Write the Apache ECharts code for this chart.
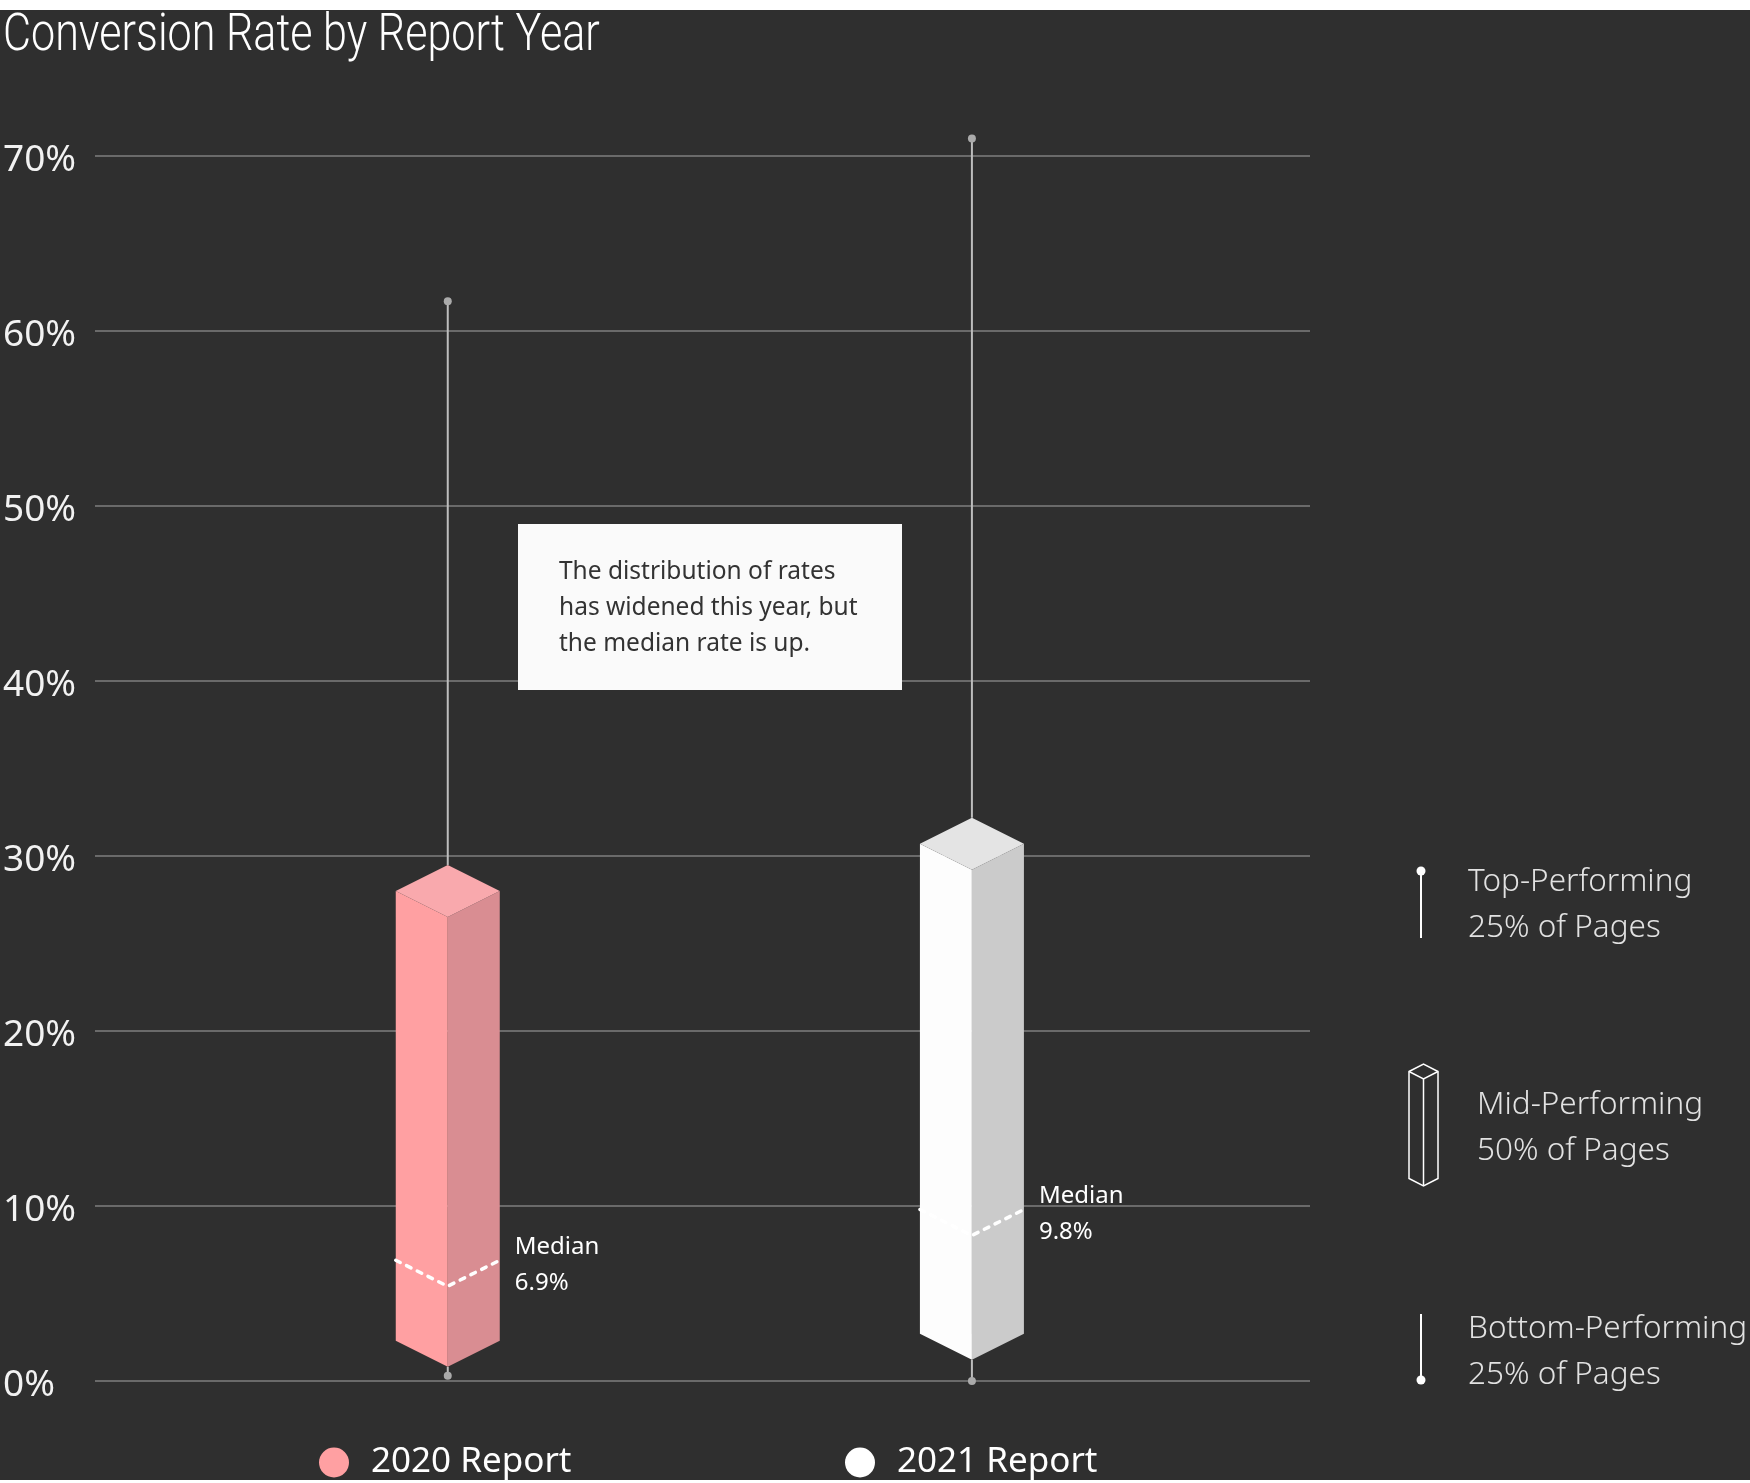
<!DOCTYPE html>
<html>
<head>
<meta charset="utf-8">
<title>Conversion Rate by Report Year</title>
<script src="https://cdn.jsdelivr.net/npm/echarts@6/dist/echarts.min.js"></script>
<style>
  html, body { margin: 0; padding: 0; background: #2f2f2f; }
  #chart { width: 1750px; height: 1483px; }
</style>
</head>
<body>
<div id="chart"></div>
<script>
// data (conversion rate, %)
var categories   = ['2020 Report', '2021 Report'];
var minValues    = [0.3, 0];
var q1Values     = [2.3, 2.7];
var medianValues = [6.9, 9.8];
var q3Values     = [28.0, 30.7];
var maxValues    = [61.7, 71.0];
var yTicks       = [0, 10, 20, 30, 40, 50, 60, 70];

var legendColors = ['#ffa0a2', '#ffffff'];
// left / right / top faces of the prism
var faceColors = [
  { left: '#ffa0a2', right: '#d98d92', top: '#f9a9ad' },
  { left: '#fdfdfd', right: '#cbcbcb', top: '#e4e4e4' }
];

var FONT = '"Noto Sans", "Open Sans", sans-serif';

/*
 * 盒子(等轴测棱柱) + 须线 + 中位数虚线
 */
function renderBox(params, api) {
  var idx = api.value(0);
  var xc = api.coord([idx, 0])[0];
  var yMin = api.coord([idx, api.value(1)])[1];
  var yQ1 = api.coord([idx, api.value(2)])[1];
  var yMed = api.coord([idx, api.value(3)])[1];
  var yQ3 = api.coord([idx, api.value(4)])[1];
  var yMax = api.coord([idx, api.value(5)])[1];
  var hw = 52, d = 26;
  var xl = xc - hw, xr = xc + hw;
  var col = faceColors[idx];
  var whisker = { stroke: '#bdbdbd', lineWidth: 2 };
  return {
    type: 'group',
    children: [
      { type: 'line', shape: { x1: xc, y1: yMax, x2: xc, y2: yQ3 - d }, style: whisker },
      { type: 'line', shape: { x1: xc, y1: yQ1 + d, x2: xc, y2: yMin }, style: whisker },
      { type: 'circle', shape: { cx: xc, cy: yMax, r: 4 }, style: { fill: '#aaaaaa' } },
      { type: 'circle', shape: { cx: xc, cy: yMin, r: 4 }, style: { fill: '#aaaaaa' } },
      { type: 'polygon', shape: { points: [[xl, yQ3], [xc, yQ3 + d], [xc, yQ1 + d], [xl, yQ1]] },
        style: { fill: col.left } },
      { type: 'polygon', shape: { points: [[xc, yQ3 + d], [xr, yQ3], [xr, yQ1], [xc, yQ1 + d]] },
        style: { fill: col.right } },
      { type: 'polygon', shape: { points: [[xl, yQ3], [xc, yQ3 - d], [xr, yQ3], [xc, yQ3 + d]] },
        style: { fill: col.top } },
      { type: 'polyline', shape: { points: [[xl, yMed], [xc, yMed + d], [xr, yMed]] },
        style: { stroke: '#ffffff', lineWidth: 3.5, lineDash: [5, 7], lineCap: 'round', fill: null } },
      { type: 'text', x: xr + 15, y: yMed + 5,
        style: {
          text: 'Median\n' + api.value(3).toFixed(1) + '%',
          fill: '#ffffff', fontSize: 24, fontFamily: FONT, lineHeight: 36,
          align: 'left', verticalAlign: 'middle'
        } }
    ]
  };
}

function seriesData(i) {
  return [[i, minValues[i], q1Values[i], medianValues[i], q3Values[i], maxValues[i]]];
}

var series = categories.map(function (name, i) {
  return {
    name: name,
    type: 'custom',
    clip: false,
    itemStyle: { color: legendColors[i] },
    renderItem: renderBox,
    encode: { x: 0, y: [1, 2, 3, 4, 5] },
    data: seriesData(i)
  };
});

function legendAt(name, left) {
  return {
    data: [name],
    left: left,
    top: 1440,
    icon: 'circle',
    itemWidth: 30,
    itemHeight: 30,
    selectedMode: false,
    textStyle: { color: '#ffffff', fontSize: 35, fontFamily: FONT, lineHeight: 30, padding: [0, 0, 0, 17] }
  };
}

function iconLine(x, y1, y2, dotY) {
  return [
    { type: 'line', shape: { x1: x, y1: y1, x2: x, y2: y2 }, style: { stroke: '#ffffff', lineWidth: 2 } },
    { type: 'circle', shape: { cx: x, cy: dotY, r: 4.5 }, style: { fill: '#ffffff' } }
  ];
}

function prismIcon(xc, yt, yb, hw, d) {
  var xl = xc - hw, xr = xc + hw;
  var st = { stroke: '#ffffff', lineWidth: 1.5, fill: null };
  return [
    { type: 'polygon', shape: { points: [[xl, yt], [xc, yt - d], [xr, yt], [xr, yb], [xc, yb + d], [xl, yb]] }, style: st },
    { type: 'polyline', shape: { points: [[xl, yt], [xc, yt + d], [xr, yt]] }, style: st },
    { type: 'line', shape: { x1: xc, y1: yt + d, x2: xc, y2: yb + d }, style: st }
  ];
}

function legendText(x, yTop, text) {
  return {
    type: 'text', x: x, y: yTop,
    style: { text: text, fill: '#e2e2e2', fontSize: 31.5, fontWeight: 300, fontFamily: FONT,
             lineHeight: 46, align: 'left', verticalAlign: 'top' }
  };
}

var graphics = [
  { type: 'rect', shape: { x: 0, y: 0, width: 1750, height: 10 }, style: { fill: '#ffffff' } },
  { type: 'rect', shape: { x: 0, y: 1480, width: 1750, height: 3 }, style: { fill: '#ffffff' }, z: 20 },
  { type: 'text', x: 3, y: 37, scaleX: 0.845,
    style: { text: 'Conversion Rate by Report Year', fill: '#ffffff', fontSize: 51, fontWeight: 300,
             fontFamily: 'Roboto, "Noto Sans", sans-serif', align: 'left', verticalAlign: 'middle' } },
  // 说明框
  { type: 'rect', z: 10, shape: { x: 518, y: 524, width: 384, height: 166 }, style: { fill: '#fafafa' } },
  { type: 'text', z: 11, x: 559, y: 554,
    style: { text: 'The distribution of rates\nhas widened this year, but\nthe median rate is up.',
             fill: '#333333', fontSize: 24.5, fontFamily: FONT, lineHeight: 36,
             align: 'left', verticalAlign: 'top' } },
  legendText(1468, 859, 'Top-Performing\n25% of Pages'),
  legendText(1477, 1082, 'Mid-Performing\n50% of Pages'),
  legendText(1468, 1306, 'Bottom-Performing\n25% of Pages')
].concat(iconLine(1421, 871, 938, 871))
 .concat(prismIcon(1423.5, 1071.5, 1178.5, 14.5, 7.5))
 .concat(iconLine(1421, 1314, 1380, 1380));

var option = {
  backgroundColor: '#2f2f2f',
  animation: false,
  grid: { left: 95, top: 156, width: 1215, height: 1225 },
  legend: [legendAt(categories[0], 314), legendAt(categories[1], 840)],
  xAxis: {
    type: 'value',
    min: -0.673,
    max: 1.645,
    show: false
  },
  yAxis: {
    type: 'value',
    min: yTicks[0],
    max: yTicks[yTicks.length - 1],
    interval: yTicks[1] - yTicks[0],
    axisLine: { show: false },
    axisTick: { show: false },
    axisLabel: {
      formatter: '{value}%',
      color: '#f2f2f2',
      fontSize: 37,
      fontFamily: FONT,
      align: 'left',
      verticalAlign: 'top',
      lineHeight: 9,
      margin: 92
    },
    splitLine: { lineStyle: { color: '#6a6a6a', width: 2 } }
  },
  graphic: graphics,
  series: series
};

var myChart = echarts.init(document.getElementById('chart'));
myChart.setOption(option);
</script>
</body>
</html>
